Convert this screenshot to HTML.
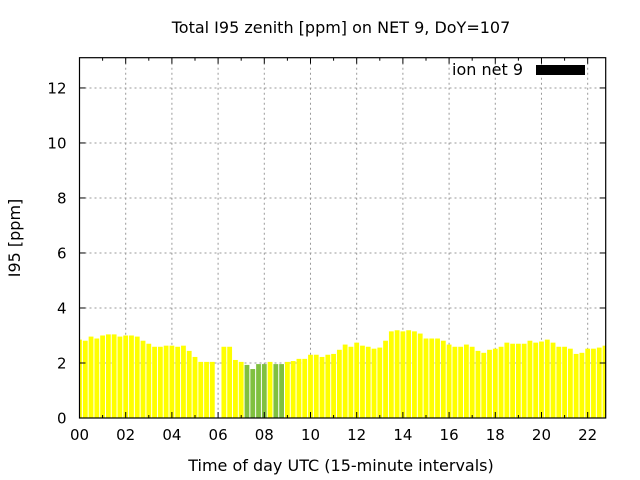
<!DOCTYPE html>
<html><head><meta charset="utf-8"><style>
html,body{margin:0;padding:0;background:#fff}
svg{display:block;font-family:"DejaVu Sans","Liberation Sans",sans-serif}
</style></head><body>
<svg id="chart" width="640" height="480" viewBox="0 0 640 480">
<rect x="0" y="0" width="640" height="480" fill="#fff"/>
<text x="341" y="33" font-size="16" text-anchor="middle">Total I95 zenith [ppm] on NET 9, DoY=107</text>
<text x="341" y="471" font-size="16" text-anchor="middle">Time of day UTC (15-minute intervals)</text>
<text x="20" y="238" font-size="16" text-anchor="middle" transform="rotate(-90 20 238)">I95 [ppm]</text>
<g id="grid"></g>
<g id="bars"></g>
<g id="axes"></g>
<g>
<text x="523" y="75" font-size="16" text-anchor="end">ion net 9</text>
<rect x="536" y="65" width="49" height="10" fill="#000"/>
</g>
</svg>
<script>
const values = [2.85,2.81,2.96,2.89,3.0,3.04,3.04,2.96,3.0,3.0,2.96,2.81,2.7,2.59,2.59,2.63,2.63,2.59,2.63,2.44,2.22,2.04,2.04,2.04,null,2.59,2.59,2.11,2.04,1.93,1.78,1.96,1.96,2.04,1.96,1.96,2.04,2.07,2.15,2.15,2.3,2.3,2.22,2.3,2.33,2.48,2.67,2.59,2.74,2.63,2.59,2.52,2.56,2.81,3.15,3.19,3.15,3.19,3.15,3.07,2.89,2.89,2.89,2.81,2.67,2.59,2.59,2.67,2.59,2.44,2.37,2.48,2.52,2.59,2.74,2.7,2.7,2.7,2.81,2.74,2.78,2.85,2.74,2.59,2.59,2.52,2.33,2.37,2.52,2.52,2.56,2.63];
const greenIdx = [29,30,31,32,34,35];
const xTicks = ["00","02","04","06","08","10","12","14","16","18","20","22"];
const yTicks = [0,2,4,6,8,10,12];
const L=79.5,R=605.7,T=57.7,B=418,XMAX=22.78,YMAX=13.1;
const xs=h=>L+(h/XMAX)*(R-L);
const ys=v=>B-(v/YMAX)*(B-T);
const NS="http://www.w3.org/2000/svg";
function mk(tag,attrs,parent){const e=document.createElementNS(NS,tag);for(const k in attrs)e.setAttribute(k,attrs[k]);parent.appendChild(e);return e;}
const grid=document.getElementById('grid'),bars=document.getElementById('bars'),axes=document.getElementById('axes');
xTicks.forEach((t,i)=>{const x=xs(i*2);if(i>0){const g=mk('line',{x1:x,x2:x,y1:T,y2:B,stroke:'#999','stroke-dasharray':'2,3','stroke-width':1},grid);}});
yTicks.forEach(v=>{if(v>0){const y=ys(v);const g=mk('line',{x1:L,x2:R,y1:y,y2:y,stroke:'#999','stroke-dasharray':'2,3','stroke-width':1},grid);}});
const bw=4.8;
values.forEach((v,i)=>{if(v==null)return;const c=xs(i*0.25);let x1=c-bw/2,x2=c+bw/2;x1=Math.max(x1,L);x2=Math.min(x2,R);
const r=mk('rect',{x:x1,y:ys(v),width:x2-x1,height:B-ys(v),fill:greenIdx.includes(i)?'#80c040':'#ffff00'},bars);

});
const bd=mk('rect',{x:L,y:T,width:R-L,height:B-T,fill:'none',stroke:'#000','stroke-width':1.2},axes);

for(let h=0;h<=22;h++){const x=xs(h);const len=(h%2==0)?6:3;
mk('line',{x1:x,x2:x,y1:B,y2:B-len,stroke:'#000'},axes);mk('line',{x1:x,x2:x,y1:T,y2:T+len,stroke:'#000'},axes);}
xTicks.forEach((t,i)=>{const tx=mk('text',{x:xs(i*2),y:B+22,'font-size':15,'text-anchor':'middle'},axes);tx.textContent=t;
});
yTicks.forEach(v=>{const y=ys(v);mk('line',{x1:L,x2:L+6,y1:y,y2:y,stroke:'#000'},axes);mk('line',{x1:R,x2:R-6,y1:y,y2:y,stroke:'#000'},axes);
const tx=mk('text',{x:L-13,y:y+5.5,'font-size':15,'text-anchor':'end'},axes);tx.textContent=v;
});
</script>
</body></html>
